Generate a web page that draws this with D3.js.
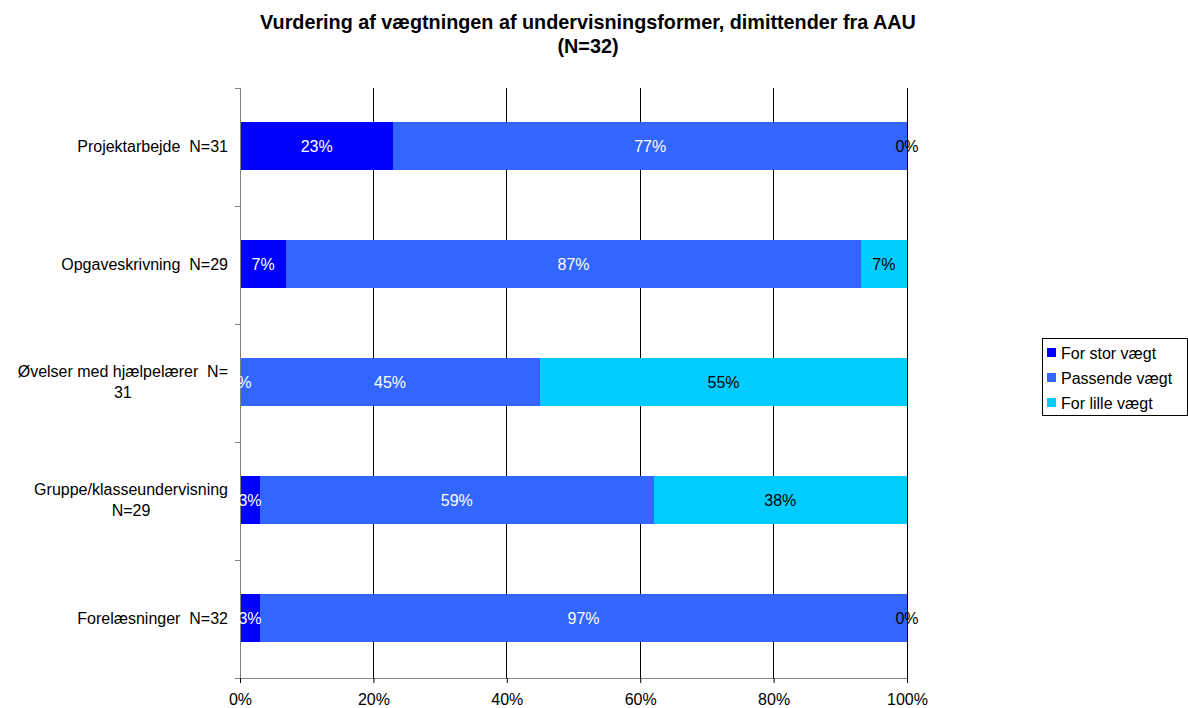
<!DOCTYPE html>
<html>
<head>
<meta charset="utf-8">
<script src="https://cdn.jsdelivr.net/npm/d3@7"></script>
<style>
  html, body { margin: 0; padding: 0; background: #fff; }
  svg { display: block; font-family: "Liberation Sans", Arial, sans-serif; }
  svg text { white-space: pre; }
</style>
</head>
<body>
<svg id="chart" width="1188" height="708"></svg>
<script>
// Categories (top to bottom) and their label lines
const categories = [
  ["Projektarbejde  N=31"],
  ["Opgaveskrivning  N=29"],
  ["Øvelser med hjælpelærer  N=", "31"],
  ["Gruppe/klasseundervisning", "N=29"],
  ["Forelæsninger  N=32"]
];
const seriesNames = ["For stor vægt", "Passende vægt", "For lille vægt"];
const seriesColors = ["#0000FF", "#3366FF", "#00CCFF"];
const labelColors = ["#FFFFFF", "#FFFFFF", "#000000"];

// Percentages per series, one value per category
const forStor   = [23, 7, 0, 3, 3];
const passende  = [77, 87, 45, 59, 97];
const forLille  = [0, 7, 55, 38, 0];
const seriesValues = [forStor, passende, forLille];

const xTicks = [0, 20, 40, 60, 80, 100];
const titleLines = ["Vurdering af vægtningen af undervisningsformer, dimittender fra AAU", "(N=32)"];

const FONT = 16;
const svg = d3.select("#chart");
const plot = { left: 240, right: 907, top: 88, bottom: 678 };

const x = d3.scaleLinear().domain([0, 100]).range([plot.left, plot.right]);
const y = d3.scaleBand().domain(d3.range(categories.length)).range([plot.top, plot.bottom]).paddingInner(0.6).paddingOuter(0.3);

// Rows normalised to 100% (stacked percentage)
const rows = categories.map((c, i) => {
  const vals = seriesValues.map(s => s[i]);
  const total = d3.sum(vals);
  let acc = 0;
  return vals.map((v, k) => {
    const p = v / total * 100;
    const seg = { cat: i, k, v, x0: acc, x1: acc + p };
    acc += p;
    return seg;
  });
});

// Vertical gridlines
svg.append("g").selectAll("line").data(xTicks.slice(1)).join("line")
  .attr("x1", d => x(d)).attr("x2", d => x(d))
  .attr("y1", plot.top).attr("y2", plot.bottom)
  .attr("stroke", "#000").attr("stroke-width", 1)
  .attr("shape-rendering", "crispEdges");

// Bars
const segs = rows.flat();
svg.append("g").selectAll("rect").data(segs.filter(d => d.x1 > d.x0)).join("rect")
  .attr("x", d => x(d.x0)).attr("width", d => x(d.x1) - x(d.x0))
  .attr("y", d => y(d.cat) - 1).attr("height", y.bandwidth())
  .attr("fill", d => seriesColors[d.k])
  .attr("shape-rendering", "crispEdges");

// Axes
const xAxis = d3.axisBottom(x).tickValues(xTicks).tickFormat(d => d + "%").tickSize(5).tickPadding(11);
const gx = svg.append("g").attr("transform", `translate(0,${plot.bottom})`).call(xAxis);
gx.select(".domain").attr("stroke", "#808080");
gx.selectAll(".tick line").attr("stroke", "#000");
gx.selectAll(".tick text").attr("font-size", FONT).attr("fill", "#000").attr("font-family", "Liberation Sans, Arial, sans-serif");

const yTickPos = d3.range(categories.length + 1).map(i => plot.top + i * (plot.bottom - plot.top) / categories.length);
svg.append("line").attr("x1", plot.left).attr("x2", plot.left)
  .attr("y1", plot.top).attr("y2", plot.bottom)
  .attr("stroke", "#808080").attr("shape-rendering", "crispEdges");
svg.append("g").selectAll("line").data(yTickPos).join("line")
  .attr("x1", plot.left - 5).attr("x2", plot.left)
  .attr("y1", d => d).attr("y2", d => d)
  .attr("stroke", "#808080").attr("shape-rendering", "crispEdges");

// Segment value labels
svg.append("g").selectAll("text").data(segs).join("text")
  .attr("x", d => x((d.x0 + d.x1) / 2))
  .attr("y", d => y(d.cat) - 1 + y.bandwidth() / 2)
  .attr("dy", "0.35em")
  .attr("text-anchor", "middle")
  .attr("font-size", FONT)
  .attr("fill", d => labelColors[d.k])
  .text(d => d.v + "%");

// Category labels: right aligned, multi-line blocks centred
const catRight = 228;
categories.forEach((lines, i) => {
  const cy = y(i) - 1 + y.bandwidth() / 2;
  const g = svg.append("g");
  const texts = lines.map((t, j) => g.append("text")
    .attr("font-size", FONT).attr("fill", "#000")
    .attr("y", cy + (j - (lines.length - 1) / 2) * 21)
    .attr("dy", "0.35em")
    .text(t));
  if (lines.length === 1) {
    texts[0].attr("x", catRight).attr("text-anchor", "end");
  } else {
    const w = d3.max(texts, t => t.node().getComputedTextLength());
    texts.forEach(t => t.attr("x", catRight - w / 2).attr("text-anchor", "middle"));
  }
});

// Title
svg.append("g").selectAll("text").data(titleLines).join("text")
  .attr("x", 588).attr("y", (d, i) => 29 + i * 24)
  .attr("text-anchor", "middle")
  .attr("font-size", 19.8).attr("font-weight", "bold")
  .text(d => d);

// Legend
const lg = svg.append("g").attr("transform", "translate(1042,338)");
lg.append("rect").attr("x", 0.5).attr("y", 0.5).attr("width", 145).attr("height", 77)
  .attr("fill", "#fff").attr("stroke", "#000");
seriesNames.forEach((n, k) => {
  const yy = 15 + k * 25;
  lg.append("rect").attr("x", 5).attr("y", yy - 5).attr("width", 9).attr("height", 9).attr("fill", seriesColors[k]);
  lg.append("text").attr("x", 19).attr("y", yy).attr("dy", "0.35em").attr("font-size", FONT).text(n);
});
</script>
</body>
</html>
